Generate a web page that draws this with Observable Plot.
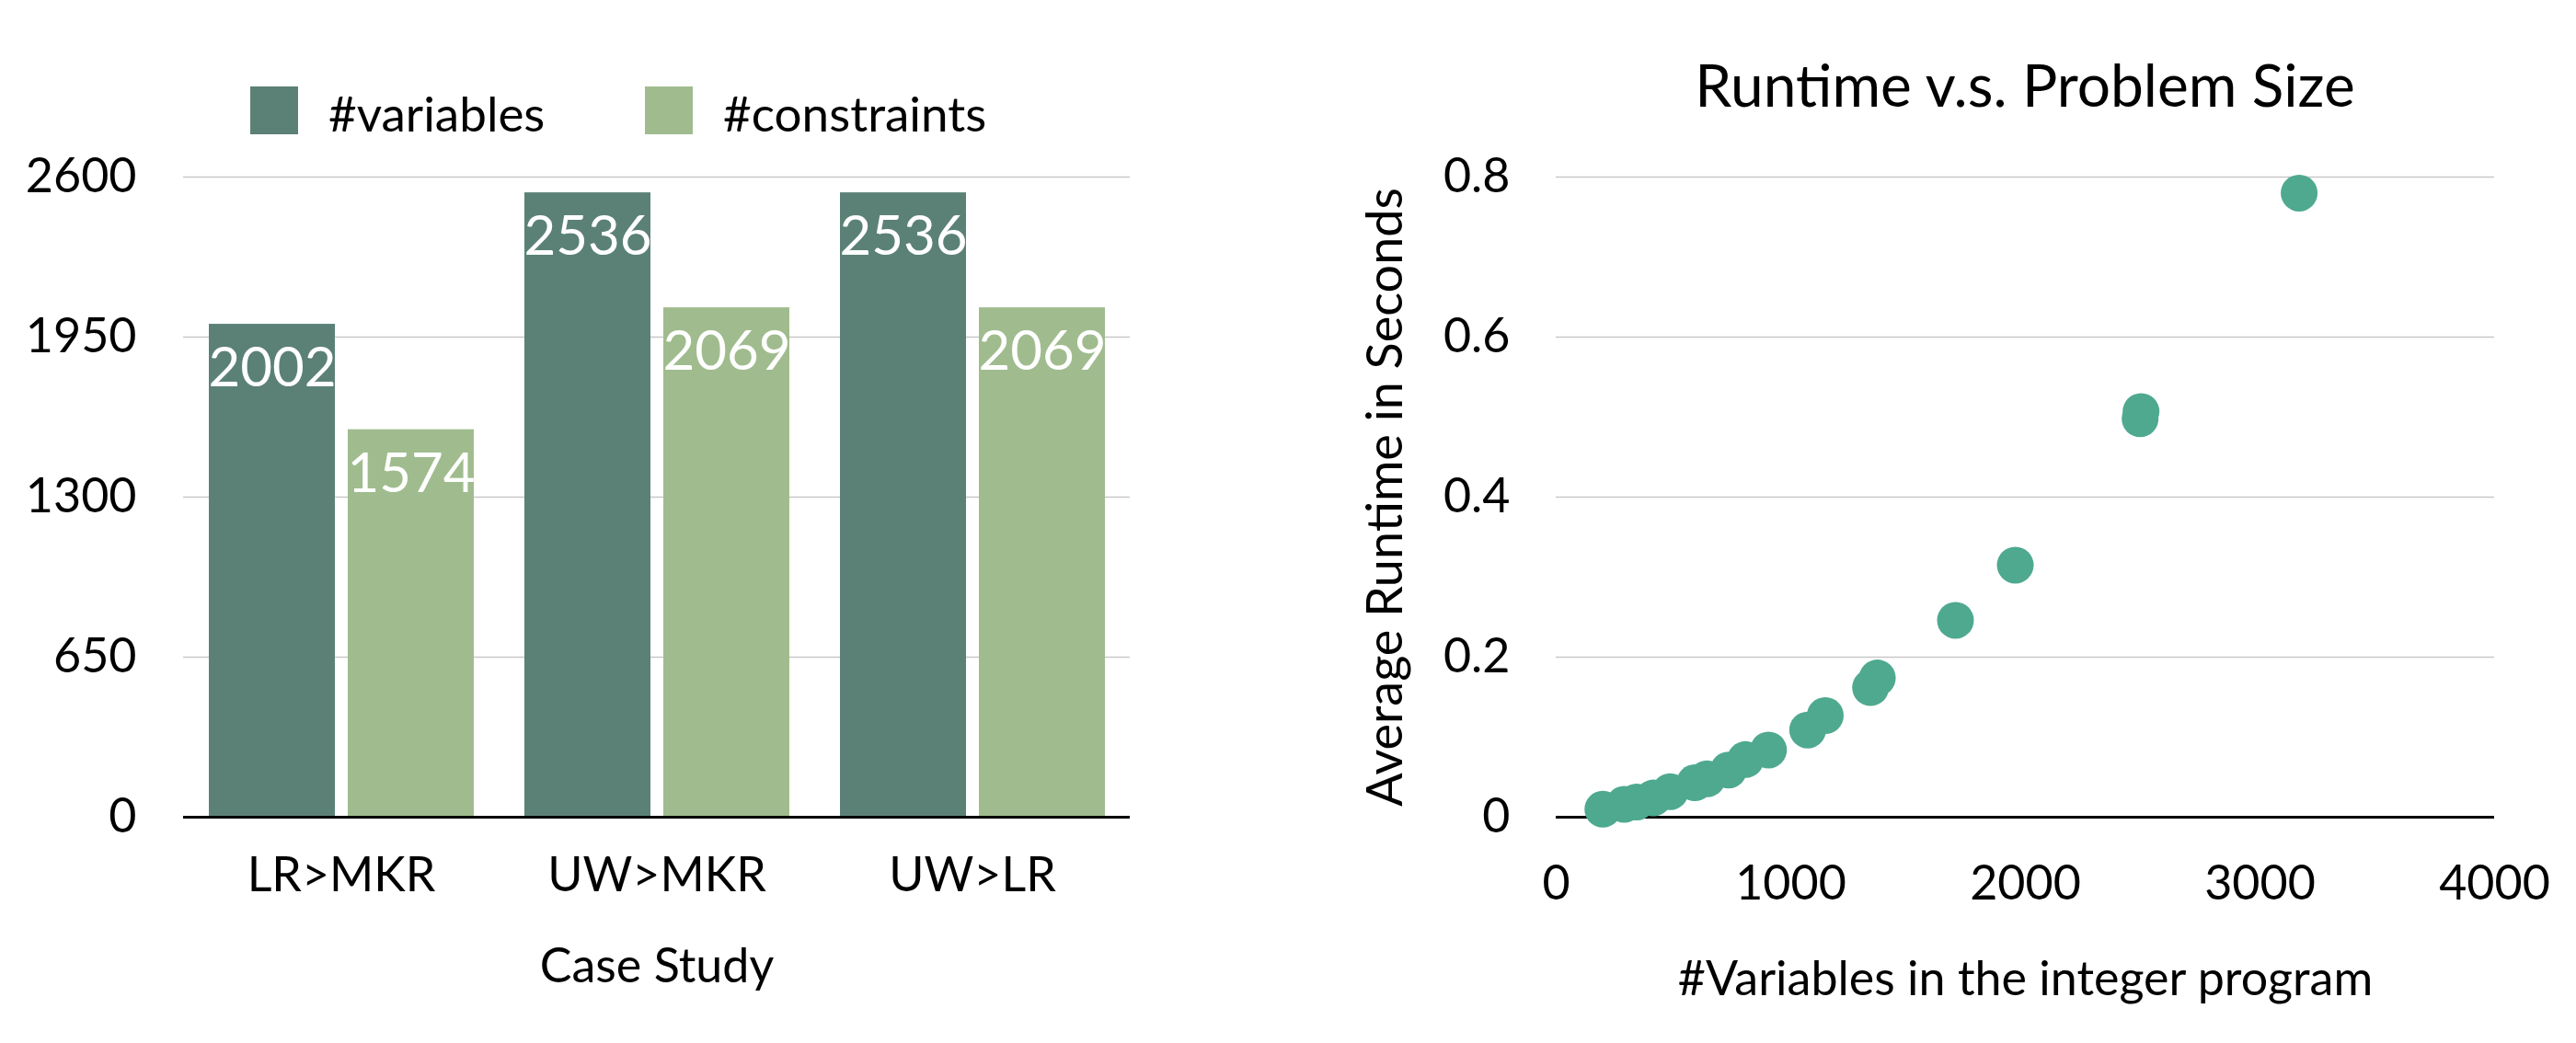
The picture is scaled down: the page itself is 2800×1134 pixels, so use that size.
<!DOCTYPE html>
<html>
<head>
<meta charset="utf-8">
<script src="https://cdn.jsdelivr.net/npm/d3@7"></script>
<script src="https://cdn.jsdelivr.net/npm/@observablehq/plot@0.6"></script>
<style>
  html, body { margin: 0; padding: 0; background: #fff; }
  #root { position: relative; width: 2800px; height: 1134px; font-family: Lato, sans-serif; color: #000; }
  .panel { position: absolute; top: 0; }
  .title { position: absolute; left: 1691px; width: 1020px; top: 60px; text-align: center; font-size: 64px; line-height: 1; }
  .swatch { position: absolute; width: 52px; height: 52px; top: 94px; }
  .ltext { position: absolute; top: 96px; font-size: 53px; line-height: 1; white-space: nowrap; }
</style>
</head>
<body>
<div id="root"></div>
<script>
// ---- Data: left chart (grouped bars) ----
const cases = ["LR>MKR", "UW>MKR", "UW>LR"];
const seriesNames = ["#variables", "#constraints"];
const variablesCounts = [2002, 2536, 2536];
const constraintsCounts = [1574, 2069, 2069];
const barTicks = [0, 650, 1300, 1950, 2600];

// ---- Data: right chart (scatter) ----
const runtimeVariables = [199, 290, 343, 414, 486, 591, 643, 735, 807, 905, 1072, 1147, 1340, 1369, 1702, 1957, 2489, 2493, 3167];
const runtimeSeconds  = [0.010, 0.016, 0.019, 0.024, 0.032, 0.043, 0.048, 0.059, 0.072, 0.084, 0.109, 0.127, 0.162, 0.174, 0.246, 0.315, 0.498, 0.507, 0.780];
const xTicks = [0, 1000, 2000, 3000, 4000];
const yTicks = [0, 0.2, 0.4, 0.6, 0.8];

const darkGreen = "#5b8177";
const lightGreen = "#a0bc8e";
const dotColor = "#4ea98f";
const gridColor = "#c8c8c8";

const barData = [];
cases.forEach((c, i) => {
  barData.push({case: c, series: seriesNames[0], value: variablesCounts[i]});
  barData.push({case: c, series: seriesNames[1], value: constraintsCounts[i]});
});
const scatterData = runtimeVariables.map((v, i) => ({vars: v, secs: runtimeSeconds[i]}));

const root = document.getElementById("root");

// ---- Left chart ----
const left = Plot.plot({
  width: 1400,
  height: 1134,
  marginTop: 192,
  marginBottom: 246,
  marginLeft: 198,
  marginRight: 172,
  style: {fontFamily: "Lato, sans-serif", fontSize: "52px", color: "#000", background: "transparent", overflow: "visible"},
  fx: {domain: cases, paddingInner: 0, paddingOuter: 0, axis: "bottom", tickSize: 0, tickPadding: 44,
       label: "Case Study", labelAnchor: "center", labelOffset: 179, labelArrow: "none"},
  x: {domain: seriesNames, paddingInner: 0.093, paddingOuter: 0.182, axis: null},
  y: {domain: [0, 2600], ticks: barTicks, tickSize: 0, tickPadding: 51, tickFormat: d => String(d), label: null},
  color: {domain: seriesNames, range: [darkGreen, lightGreen]},
  marks: [
    Plot.gridY(barTicks.slice(1), {stroke: gridColor, strokeOpacity: 1, strokeWidth: 1.5}),
    Plot.barY(barData, {fx: "case", x: "series", y: "value", fill: "series"}),
    Plot.ruleY([0], {stroke: "#000", strokeWidth: 3}),
    Plot.text(barData, {fx: "case", x: "series", y: "value", text: d => String(d.value),
      fill: "#fff", lineAnchor: "top", dy: 25, fontSize: 60})
  ]
});
left.classList.add("panel");
left.style.left = "0px";
root.appendChild(left);

// ---- Right chart ----
const right = Plot.plot({
  width: 1400,
  height: 1134,
  marginTop: 192,
  marginBottom: 246,
  marginLeft: 291,
  marginRight: 89,
  style: {fontFamily: "Lato, sans-serif", fontSize: "52px", color: "#000", background: "transparent", overflow: "visible"},
  x: {domain: [0, 4000], ticks: xTicks, tickSize: 0, tickPadding: 53, tickFormat: d => String(d),
      label: "#Variables in the integer program", labelAnchor: "center", labelOffset: 193, labelArrow: "none"},
  y: {domain: [0, 0.8], axis: null},
  marks: [
    Plot.gridY(yTicks.slice(1), {stroke: gridColor, strokeOpacity: 1, strokeWidth: 1.5}),
    Plot.axisY({ticks: yTicks, tickSize: 0, tickPadding: 50, tickFormat: d => String(d), label: null}),
    Plot.axisY({ticks: [], tickSize: 0, label: "Average Runtime in Seconds", labelAnchor: "center",
      labelOffset: 206, labelArrow: "none", fontSize: 54}),
    Plot.ruleY([0], {stroke: "#000", strokeWidth: 3}),
    Plot.dot(scatterData, {x: "vars", y: "secs", r: 20, fill: dotColor, stroke: "none"})
  ]
});
right.classList.add("panel");
right.style.left = "1400px";
root.appendChild(right);

// ---- Title (right chart) ----
const title = document.createElement("div");
title.className = "title";
title.textContent = "Runtime v.s. Problem Size";
root.appendChild(title);

// ---- Legend (left chart) ----
const legendItems = [
  {name: seriesNames[0], color: darkGreen, sx: 272, tx: 357},
  {name: seriesNames[1], color: lightGreen, sx: 701, tx: 786}
];
legendItems.forEach(it => {
  const sw = document.createElement("div");
  sw.className = "swatch";
  sw.style.left = it.sx + "px";
  sw.style.background = it.color;
  root.appendChild(sw);
  const t = document.createElement("div");
  t.className = "ltext";
  t.style.left = it.tx + "px";
  t.textContent = it.name;
  root.appendChild(t);
});
</script>
</body>
</html>
